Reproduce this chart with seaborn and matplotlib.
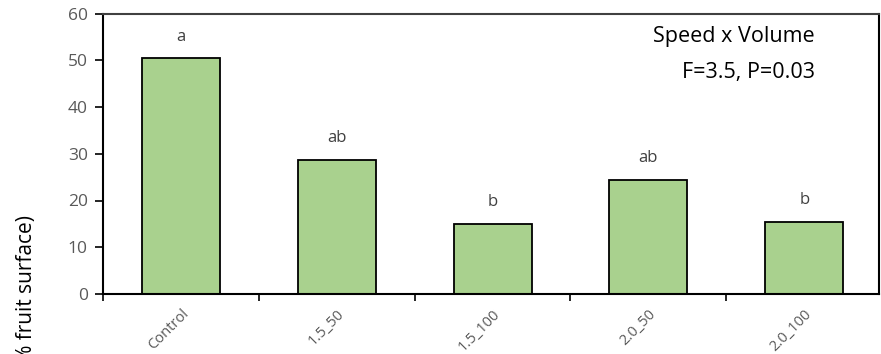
import matplotlib
matplotlib.use("Agg")
import matplotlib.pyplot as plt
import seaborn as sns
import pandas as pd

# Treatment categories and mean values
treatments = ["Control", "1.5_50", "1.5_100", "2.0_50", "2.0_100"]
values = [50.4, 28.7, 15.0, 24.4, 15.4]
letters = ["a", "ab", "b", "ab", "b"]
y_ticks = [0, 10, 20, 30, 40, 50, 60]
y_label = "(% fruit surface)"
stat_title = "Speed x Volume"
stat_text = "F=3.5, P=0.03"

sns.set_theme(style="white")
plt.rcParams["font.family"] = ["Open Sans", "DejaVu Sans"]

df = pd.DataFrame({"treatment": treatments, "value": values})

fig = plt.figure(figsize=(8.81, 3.54), dpi=100)
ax = fig.add_axes([103 / 881, 1 - 294 / 354, 776 / 881, (294 - 13.5) / 354])

sns.barplot(data=df, x="treatment", y="value", color="#A9D18E", saturation=1,
            width=0.5, edgecolor="black", linewidth=1.3, ax=ax)

ax.set_ylim(0, 60)
ax.set_xlim(-0.5, 4.48)
ax.set_yticks(y_ticks)
ax.set_yticklabels([str(t) for t in y_ticks], fontsize=12.5, color="#595959")
ax.tick_params(axis="y", direction="out", length=6, width=1.2, color="black",
               left=True, pad=5)

# category ticks sit between the bars; labels sit under bar centres
ax.set_xticks(range(len(treatments)))
ax.set_xticklabels(treatments, rotation=45, ha="right", rotation_mode="anchor",
                   fontsize=10.5, color="#595959")
ax.tick_params(axis="x", length=0, pad=9)
ax.set_xticks([i - 0.5 for i in range(len(treatments))], minor=True)
ax.tick_params(axis="x", which="minor", direction="out", length=5, width=1.2,
               color="black", bottom=True)

ax.set_xlabel("")
ax.set_ylabel("")

for side in ["left", "bottom", "right"]:
    ax.spines[side].set_color("black")
    ax.spines[side].set_linewidth(1.5)
ax.spines["top"].set_color("#404040")
ax.spines["top"].set_linewidth(1.5)

for i, (v, lt) in enumerate(zip(values, letters)):
    ax.text(i, v + 3.8, lt, ha="center", va="baseline", fontsize=12,
            color="#404040")

ax.text(3.55, 53.9, stat_title, ha="center", va="baseline", fontsize=15.5,
        color="black")
ax.text(3.64, 46.1, stat_text, ha="center", va="baseline", fontsize=15.5,
        color="black")

fig.text(27 / 881, 1 - 215 / 354, y_label, rotation=90, ha="center", va="top",
         fontsize=15, color="black")

fig.savefig("out.png", dpi=100)
